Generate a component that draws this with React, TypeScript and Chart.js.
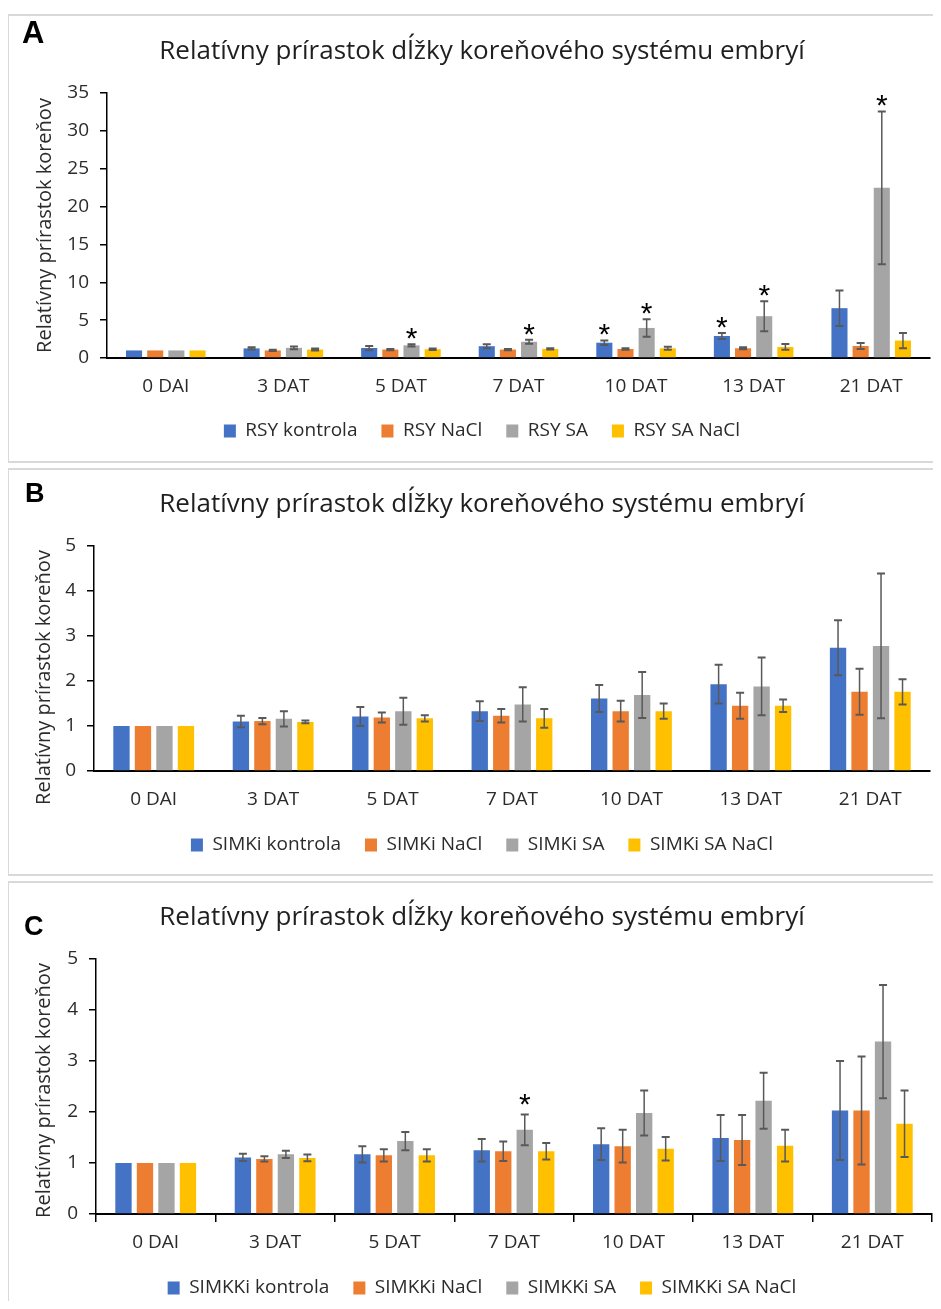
import React, { useEffect, useRef } from 'react';
import { Chart, registerables } from 'chart.js';
Chart.register(...registerables);

// ---------- data ----------
const categories = ['0 DAI', '3 DAT', '5 DAT', '7 DAT', '10 DAT', '13 DAT', '21 DAT'];
const chartTitle = 'Relatívny prírastok dĺžky koreňového systému embryí';
const yAxisTitle = 'Relatívny prírastok koreňov';
const seriesColors = ['#4472C4', '#ED7D31', '#A5A5A5', '#FFC000'];

// Panel A (RSY)
const rsyLabels = ['RSY kontrola', 'RSY NaCl', 'RSY SA', 'RSY SA NaCl'];
const rsyKontrola = [1, 1.27, 1.32, 1.56, 2.02, 2.91, 6.58];
const rsyKontrolaErr = [0, 0.15, 0.28, 0.27, 0.3, 0.4, 2.34];
const rsyNaCl = [1, 1.0, 1.12, 1.12, 1.19, 1.28, 1.59];
const rsyNaClErr = [0, 0.08, 0.08, 0.08, 0.1, 0.13, 0.4];
const rsySA = [1, 1.34, 1.67, 2.14, 3.97, 5.52, 22.47];
const rsySAErr = [0, 0.17, 0.14, 0.27, 1.15, 1.98, 10.1];
const rsySANaCl = [1, 1.12, 1.16, 1.2, 1.28, 1.46, 2.3];
const rsySANaClErr = [0, 0.12, 0.1, 0.09, 0.2, 0.38, 1.0];
const rsyStars = [[2, 2], [2, 3], [0, 4], [2, 4], [0, 5], [2, 5], [2, 6]];
const rsyTicks = { max: 35, step: 5 };

// Panel B (SIMKi)
const simkiLabels = ['SIMKi kontrola', 'SIMKi NaCl', 'SIMKi SA', 'SIMKi SA NaCl'];
const simkiKontrola = [1, 1.1, 1.21, 1.33, 1.61, 1.93, 2.74];
const simkiKontrolaErr = [0, 0.13, 0.21, 0.22, 0.3, 0.43, 0.61];
const simkiNaCl = [1, 1.11, 1.19, 1.23, 1.33, 1.45, 1.76];
const simkiNaClErr = [0, 0.07, 0.11, 0.15, 0.23, 0.29, 0.51];
const simkiSA = [1, 1.16, 1.33, 1.48, 1.69, 1.88, 2.78];
const simkiSAErr = [0, 0.17, 0.3, 0.38, 0.51, 0.64, 1.61];
const simkiSANaCl = [1, 1.09, 1.17, 1.17, 1.33, 1.45, 1.76];
const simkiSANaClErr = [0, 0.03, 0.07, 0.21, 0.17, 0.14, 0.28];
const simkiStars: number[][] = [];
const simkiTicks = { max: 5, step: 1 };

// Panel C (SIMKKi)
const simkkiLabels = ['SIMKKi kontrola', 'SIMKKi NaCl', 'SIMKKi SA', 'SIMKKi SA NaCl'];
const simkkiKontrola = [1, 1.11, 1.17, 1.25, 1.37, 1.49, 2.03];
const simkkiKontrolaErr = [0, 0.07, 0.16, 0.22, 0.31, 0.45, 0.97];
const simkkiNaCl = [1, 1.08, 1.15, 1.23, 1.33, 1.45, 2.03];
const simkkiNaClErr = [0, 0.05, 0.12, 0.19, 0.32, 0.49, 1.06];
const simkkiSA = [1, 1.17, 1.43, 1.65, 1.98, 2.22, 3.38];
const simkkiSAErr = [0, 0.07, 0.18, 0.3, 0.44, 0.55, 1.11];
const simkkiSANaCl = [1, 1.1, 1.15, 1.23, 1.28, 1.34, 1.77];
const simkkiSANaClErr = [0, 0.065, 0.12, 0.16, 0.23, 0.31, 0.65];
const simkkiStars = [[2, 3]];
const simkkiTicks = { max: 5, step: 1 };

// ---------- layout / style ----------
const FONT = '"Open Sans", "DejaVu Sans", sans-serif';
const TEXT = '#2b2b2b';
const TITLE = '#1f1f1f';
const CANVAS_LEFT = 9;
const CANVAS_W = 946;

type PanelCfg = {
  letter: string;
  letterSize: number;
  letterLeft: number;
  letterTop: number;
  boxTop: number;
  boxH: number;
  top: number;
  h: number;
  yAxisW: number;
  rightW: number;
  titlePadTop: number;
  titlePadBottom: number;
  xAxisH: number;
  xTickLen: number;
  xPad: number;
  padBottom: number;
  yTitleX: number;
  yTitleShift: number;
  starGap: number;
  labels: string[];
  values: number[][];
  errors: number[][];
  stars: number[][];
  ticks: { max: number; step: number };
};

const panels: PanelCfg[] = [
  {
    letter: 'A', letterSize: 31, letterLeft: 22, letterTop: 17,
    boxTop: 14, boxH: 449, top: 17, h: 443,
    yAxisW: 98, rightW: 25, titlePadTop: 19.4, titlePadBottom: 25.4,
    xAxisH: 39.5, xTickLen: 0, xPad: 17.6, padBottom: 9.5,
    yTitleX: 45, yTitleShift: 0, starGap: 12,
    labels: rsyLabels,
    values: [rsyKontrola, rsyNaCl, rsySA, rsySANaCl],
    errors: [rsyKontrolaErr, rsyNaClErr, rsySAErr, rsySANaClErr],
    stars: rsyStars, ticks: rsyTicks,
  },
  {
    letter: 'B', letterSize: 27, letterLeft: 25, letterTop: 480,
    boxTop: 468, boxH: 408, top: 471, h: 401,
    yAxisW: 85, rightW: 25, titlePadTop: 18.4, titlePadBottom: 25.4,
    xAxisH: 40.5, xTickLen: 0, xPad: 17.6, padBottom: 7.5,
    yTitleX: 44, yTitleShift: 19, starGap: 12,
    labels: simkiLabels,
    values: [simkiKontrola, simkiNaCl, simkiSA, simkiSANaCl],
    errors: [simkiKontrolaErr, simkiNaClErr, simkiSAErr, simkiSANaClErr],
    stars: simkiStars, ticks: simkiTicks,
  },
  {
    letter: 'C', letterSize: 27, letterLeft: 24, letterTop: 913,
    boxTop: 881, boxH: 500, top: 884, h: 430,
    yAxisW: 87, rightW: 23, titlePadTop: 18.4, titlePadBottom: 25.4,
    xAxisH: 40.5, xTickLen: 8, xPad: 9.6, padBottom: 6.5,
    yTitleX: 44, yTitleShift: 4, starGap: 17,
    labels: simkkiLabels,
    values: [simkkiKontrola, simkkiNaCl, simkkiSA, simkkiSANaCl],
    errors: [simkkiKontrolaErr, simkkiNaClErr, simkkiSAErr, simkkiSANaClErr],
    stars: simkkiStars, ticks: simkkiTicks,
  },
];

function Panel({ cfg }: { cfg: PanelCfg }) {
  const ref = useRef<HTMLCanvasElement>(null);
  useEffect(() => {
    const canvas = ref.current;
    if (!canvas) return;
    const overlay = {
      id: 'overlay',
      afterDatasetsDraw(chart: any) {
        const { ctx } = chart;
        const y = chart.scales.y;
        ctx.save();
        chart.data.datasets.forEach((ds: any, i: number) => {
          const meta = chart.getDatasetMeta(i);
          meta.data.forEach((el: any, j: number) => {
            const v = ds.data[j] as number;
            const e = cfg.errors[i][j];
            if (!e) return;
            const x = el.x;
            const yt = y.getPixelForValue(v + e);
            const yb = y.getPixelForValue(Math.max(0, v - e));
            ctx.strokeStyle = '#595959';
            ctx.lineWidth = 1.5;
            ctx.beginPath();
            ctx.moveTo(x, yt);
            ctx.lineTo(x, yb);
            ctx.stroke();
            ctx.lineWidth = 2;
            ctx.beginPath();
            ctx.moveTo(x - 4, yt);
            ctx.lineTo(x + 4, yt);
            ctx.moveTo(x - 4, yb);
            ctx.lineTo(x + 4, yb);
            ctx.stroke();
          });
        });
        ctx.fillStyle = '#000';
        ctx.font = '30px "Liberation Sans", Arial, sans-serif';
        ctx.textAlign = 'center';
        ctx.textBaseline = 'alphabetic';
        cfg.stars.forEach(([i, j]) => {
          const el = chart.getDatasetMeta(i).data[j];
          const v = cfg.values[i][j] + cfg.errors[i][j];
          const cy = y.getPixelForValue(v) - cfg.starGap;
          ctx.fillText('*', el.x, cy + 16);
        });
        ctx.restore();
      },
      afterDraw(chart: any) {
        const { ctx, chartArea } = chart;
        ctx.save();
        ctx.translate(cfg.yTitleX - CANVAS_LEFT, (chartArea.top + chartArea.bottom) / 2 + cfg.yTitleShift);
        ctx.rotate(-Math.PI / 2);
        ctx.fillStyle = TEXT;
        ctx.font = `20px ${FONT}`;
        ctx.textAlign = 'center';
        ctx.textBaseline = 'middle';
        ctx.fillText(yAxisTitle, 0, 0);
        ctx.restore();
      },
    };
    const chart = new Chart(canvas, {
      type: 'bar',
      data: {
        labels: categories,
        datasets: cfg.values.map((vals, i) => ({
          label: cfg.labels[i],
          data: vals,
          backgroundColor: seriesColors[i],
          borderWidth: 0,
          barPercentage: 0.76,
          categoryPercentage: 0.72,
        })),
      },
      options: {
        responsive: false,
        maintainAspectRatio: false,
        animation: false,
        devicePixelRatio: 1,
        layout: { padding: { left: 0, right: 0, top: 0, bottom: cfg.padBottom } },
        plugins: {
          title: {
            display: true,
            text: chartTitle,
            color: TITLE,
            font: { family: FONT, size: 26, weight: 'normal' },
            padding: { top: cfg.titlePadTop, bottom: cfg.titlePadBottom },
          },
          legend: {
            display: true,
            position: 'bottom',
            labels: {
              color: TEXT,
              font: { family: FONT, size: 19 },
              boxWidth: 12,
              boxHeight: 13,
              padding: 24,
            },
          },
          tooltip: { enabled: false },
        },
        scales: {
          x: {
            type: 'category',
            grid: {
              display: cfg.xTickLen > 0,
              drawOnChartArea: false,
              drawTicks: cfg.xTickLen > 0,
              tickLength: cfg.xTickLen,
              color: '#000',
              lineWidth: 1.5,
              offset: true,
            },
            border: { display: true, color: '#000', width: 2 },
            ticks: { color: TEXT, font: { family: FONT, size: 19 }, padding: cfg.xPad, maxRotation: 0 },
            afterFit: (s: any) => { s.height = cfg.xAxisH; },
          },
          y: {
            type: 'linear',
            min: 0,
            max: cfg.ticks.max,
            grid: { display: true, drawOnChartArea: false, drawTicks: true, tickLength: 7, color: '#000', lineWidth: 1.5 },
            border: { display: true, color: '#000', width: 1.5 },
            ticks: { stepSize: cfg.ticks.step, color: TEXT, font: { family: FONT, size: 19 }, padding: 11 },
            afterFit: (s: any) => { s.width = cfg.yAxisW; },
          },
          y2: {
            type: 'linear',
            position: 'right',
            display: true,
            grid: { display: false, drawTicks: false },
            border: { display: false },
            ticks: { display: false },
            afterFit: (s: any) => { s.width = cfg.rightW; },
          },
        },
      } as any,
      plugins: [overlay],
    });
    return () => chart.destroy();
  }, [cfg]);
  return (
    <>
      <div
        style={{
          position: 'absolute', left: 7, top: cfg.boxTop, width: 960, height: cfg.boxH,
          boxSizing: 'border-box', border: '2px solid #d9d9d9', background: '#fff',
        }}
      />
      <canvas
        ref={ref}
        width={CANVAS_W}
        height={cfg.h}
        style={{ position: 'absolute', left: CANVAS_LEFT, top: cfg.top, width: CANVAS_W, height: cfg.h }}
      />
      <div
        style={{
          position: 'absolute', left: cfg.letterLeft, top: cfg.letterTop,
          fontFamily: '"Liberation Sans", Arial, sans-serif', fontWeight: 'bold',
          fontSize: cfg.letterSize, lineHeight: 1, color: '#000',
        }}
      >
        {cfg.letter}
      </div>
    </>
  );
}

export default function App() {
  return (
    <div style={{ position: 'relative', width: 941, height: 1309, overflow: 'hidden', margin: -8 }}>
      <div style={{ position: 'absolute', left: 0, top: 0, width: 941, height: 1309 }}>
        {panels.map((p) => (
          <Panel key={p.letter} cfg={p} />
        ))}
      </div>
    </div>
  );
}
